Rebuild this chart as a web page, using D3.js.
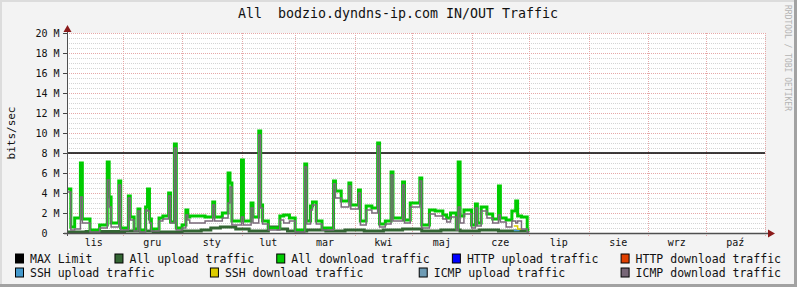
<!DOCTYPE html>
<html><head><meta charset="utf-8">
<script src="https://cdn.jsdelivr.net/npm/d3@7"></script>
<style>
body{margin:0;background:#f3f3f3}
svg{display:block}
text{font-family:"DejaVu Sans Mono",monospace}
</style></head>
<body><svg id="c" width="797" height="287"></svg>
<script>
// ---- data (values in Mbit/s, days counted from the first day shown) ----
const title = "All  bodzio.dyndns-ip.com IN/OUT Traffic";
const monthLabels = ["lis","gru","sty","lut","mar","kwi","maj","cze","lip","sie","wrz","paź"];
const yTickValues = [0,2,4,6,8,10,12,14,16,18,20];
const maxLimit = 8;

const dlDays = [0,2,4,7,8,12,17,21,22,23,27,28,32,33,35,37,38,41,42,43,44,48,50,53,54,56,57,60,62,63,64,72,76,77,81,84,85,86,91,92,96,97,100,101,102,105,111,113,116,119,124,125,127,128,130,133,139,140,143,147,148,152,153,156,159,162,163,166,169,170,175,176,179,184,185,189,192,196,198,200,203,204,205,207,211,213,214,216,219,222,225,226,229,232,234,235,237,240,241];
const allDownload = [4.4,0.6,1.5,7.0,1.4,0.3,0.8,7.1,3.6,1.0,5.2,0.5,3.7,1.6,0.4,2.4,0.3,2.6,4.4,1.4,0.4,1.5,1.7,4.0,1.1,8.9,0.5,0.8,2.3,1.6,1.7,1.6,3.1,1.6,2.0,6.0,5.0,1.2,7.3,1.2,3.0,1.6,10.2,2.8,1.2,0.5,1.7,1.8,1.5,0.3,6.9,1.2,2.7,3.1,1.2,0.5,5.2,4.2,3.2,5.0,2.8,4.3,1.2,2.7,2.5,9.0,0.9,1.2,6.1,1.5,5.1,1.3,3.0,5.5,0.8,2.3,2.2,1.8,1.5,2.0,0.5,7.1,1.7,2.3,0.8,2.9,1.0,2.6,1.9,1.4,4.7,1.5,1.3,2.2,3.2,1.7,1.6,0.3];
const icmpDownload = [4.1,0.3,0.4,3.6,1.0,0.1,0.5,5.3,2.6,0.6,4.8,0.3,3.5,1.3,0.2,2.2,0.1,2.3,2.2,1.0,0.2,1.2,1.4,3.7,1.0,8.5,0.3,0.5,1.8,1.3,1.0,1.2,2.8,1.2,1.5,3.0,4.6,0.8,1.6,0.8,2.5,1.0,9.8,2.5,0.9,0.3,1.3,1.0,1.2,0.1,6.6,0.9,2.3,2.8,0.9,0.3,4.9,3.5,2.6,4.7,2.4,4.0,0.8,2.3,2.0,8.7,0.6,0.9,5.8,1.2,4.8,1.0,2.6,5.2,0.5,1.9,1.7,1.4,1.1,1.6,0.3,2.6,1.0,1.9,0.5,2.5,0.7,2.2,1.5,1.0,1.8,1.1,0.6,1.2,1.0,1.2,0.4,0.1];

const ulDays = [0,10,30,45,60,70,75,80,88,95,105,110,115,125,135,145,155,165,175,185,195,205,215,225,241];
const allUpload = [0.1,0.15,0.2,0.1,0.2,0.3,0.5,0.6,0.4,0.2,0.6,0.4,0.2,0.3,0.2,0.3,0.2,0.3,0.4,0.2,0.3,0.2,0.3,0.2];

const sshUpDays = [233,236];
const sshUpload = [0.25];
const sshDlDays = [233,235,237];
const sshDownload = [0.7,0.4];

const legendRows = [
  [["MAX Limit","#000000"],["All upload traffic","#336633"],["All download traffic","#00cc00"],["HTTP upload traffic","#0000ff"],["HTTP download traffic","#e04000"]],
  [["SSH upload traffic","#4499cc"],["SSH download traffic","#ddcc00"],["ICMP upload traffic","#6e9bb4"],["ICMP download traffic","#776677"]]
];

// ---- layout ----
const W = 797, H = 287;
const L = 67, R = 765, T = 33, B = 233;
const start = new Date(2006,10,2), end = new Date(2007,10,1);
const x = d3.scaleTime().domain([start,end]).range([L,R]);
const y = d3.scaleLinear().domain([0,20]).range([B,T]);
const day = d => d3.timeDay.offset(start,d);

const svg = d3.select("#c");
svg.append("rect").attr("width",W).attr("height",H).attr("fill","#f3f3f3");
// 3D frame
svg.append("rect").attr("x",0).attr("y",0).attr("width",W).attr("height",2).attr("fill","#dcdcdc");
svg.append("rect").attr("x",0).attr("y",0).attr("width",2).attr("height",H).attr("fill","#dcdcdc");
svg.append("rect").attr("x",W-3).attr("y",0).attr("width",3).attr("height",H).attr("fill","#a2a2a2");
svg.append("rect").attr("x",0).attr("y",H-3).attr("width",W).attr("height",3).attr("fill","#a2a2a2");

// canvas
svg.append("rect").attr("x",L).attr("y",T).attr("width",R-L).attr("height",B-T).attr("fill","#ffffff");

// minor grid
const minor = d3.range(0.5,20.01,0.5).filter(v=>Math.abs(v%2)>1e-6);
svg.append("g").selectAll("line").data(minor).join("line")
  .attr("x1",L).attr("x2",R+2).attr("y1",d=>Math.round(y(d))+0.5).attr("y2",d=>Math.round(y(d))+0.5)
  .attr("stroke","#d4d4d4").attr("stroke-dasharray","1,1");
// major grid
svg.append("g").selectAll("line").data(yTickValues.filter(v=>v>0)).join("line")
  .attr("x1",L).attr("x2",R+2).attr("y1",d=>Math.round(y(d))+0.5).attr("y2",d=>Math.round(y(d))+0.5)
  .attr("stroke","#e6a8a8").attr("stroke-dasharray","1,1");
const monthStarts = d3.timeMonth.range(new Date(2006,10,1), new Date(2007,11,1));
svg.append("g").selectAll("line").data(monthStarts.filter(d=>d>start && d<=end)).join("line")
  .attr("x1",d=>Math.round(x(d))+0.5).attr("x2",d=>Math.round(x(d))+0.5).attr("y1",T).attr("y2",B+3)
  .attr("stroke","#e6a8a8").attr("stroke-dasharray","1,1");

// y tick labels
svg.append("g").selectAll("text").data(yTickValues).join("text")
  .attr("x",59.5).attr("y",d=>y(d)+3.5).attr("text-anchor","end")
  .attr("font-size","10px").attr("fill","#111").style("white-space","pre")
  .text(d=> d===0 ? "0  " : d+" M");
svg.append("g").selectAll("line").data(yTickValues).join("line")
  .attr("x1",63).attr("x2",L).attr("y1",d=>Math.round(y(d))+0.5).attr("y2",d=>Math.round(y(d))+0.5)
  .attr("stroke","#444");

// month labels
const months = d3.timeMonth.range(new Date(2006,10,1), new Date(2007,10,1));
svg.append("g").selectAll("text").data(months).join("text")
  .attr("x",(d,i)=>(x(d)+x(d3.timeMonth.offset(d,1)))/2).attr("y",245.5)
  .attr("text-anchor","middle").attr("font-size","10px").attr("fill","#111")
  .text((d,i)=>monthLabels[i]);

// data lines
function stepPts(days, vals){
  return days.map((d,i)=>[x(day(d)), y(i<vals.length?vals[i]:vals[vals.length-1])]);
}
const line = d3.line().curve(d3.curveStepAfter);
// MAX limit
svg.append("line").attr("x1",L).attr("x2",R).attr("y1",y(maxLimit)).attr("y2",y(maxLimit))
  .attr("stroke","#000").attr("stroke-width",1.3);
svg.append("path").attr("d",line(stepPts(ulDays,allUpload))).attr("fill","none")
  .attr("stroke","#336633").attr("stroke-width",3);
svg.append("path").attr("d",line(stepPts(dlDays,allDownload))).attr("fill","none")
  .attr("stroke","#00cc00").attr("stroke-width",3).attr("stroke-linejoin","miter");
svg.append("path").attr("d",line(stepPts(sshUpDays,sshUpload))).attr("fill","none")
  .attr("stroke","#4499cc").attr("stroke-width",1.5);
svg.append("path").attr("d",line(stepPts(sshDlDays,sshDownload))).attr("fill","none")
  .attr("stroke","#ddcc00").attr("stroke-width",1.5);
svg.append("path").attr("d",line(stepPts(dlDays,icmpDownload))).attr("fill","none")
  .attr("stroke","#7a6a7a").attr("stroke-width",1.5);

// axes
svg.append("line").attr("x1",L+0.5).attr("x2",L+0.5).attr("y1",B+3).attr("y2",T-4).attr("stroke","#505050");
svg.append("line").attr("x1",L-3).attr("x2",R+4).attr("y1",B+0.5).attr("y2",B+0.5).attr("stroke","#505050").attr("stroke-width",1.3);
svg.append("path").attr("d",`M${L-3.5},${T-1} L${L+0.5},${T-8} L${L+4.5},${T-1} Z`).attr("fill","#8b1a1a");
svg.append("path").attr("d",`M${R+3},${B-3.5} L${R+10},${B+0.5} L${R+3},${B+4.5} Z`).attr("fill","#8b1a1a");

// title
svg.append("text").attr("x",398).attr("y",18).attr("text-anchor","middle")
  .attr("font-size","13.3px").attr("fill","#111").style("white-space","pre").text(title);
// y label
svg.append("text").attr("transform","translate(15,133) rotate(-90)").attr("text-anchor","middle")
  .attr("font-size","11px").attr("fill","#111").text("bits/sec");
// watermark
svg.append("text").attr("transform","translate(785,5) rotate(90)").attr("text-anchor","start")
  .attr("font-size","8px").attr("fill","#b4b4b4").text("RRDTOOL / TOBI OETIKER");

// legend (justified rows)
const legY = [262.5, 276.5];
legendRows.forEach((row,ri)=>{
  const g = svg.append("g");
  const items = row.map(([label,color])=>{
    const t = g.append("text").attr("font-size","11.5px").attr("fill","#111").text(label);
    return {t, w: t.node().getComputedTextLength(), color};
  });
  const left = 15, right = 781;
  const total = d3.sum(items, d=>d.w+15);
  const gap = (right-left-total)/(items.length-1);
  let cx = left;
  items.forEach(it=>{
    g.append("rect").attr("x",cx+0.5).attr("y",legY[ri]-8.5).attr("width",8).attr("height",9)
      .attr("fill",it.color).attr("stroke","#000").attr("stroke-width",1);
    it.t.attr("x",cx+15).attr("y",legY[ri]);
    cx += it.w + 15 + gap;
  });
});
</script>
</body></html>
